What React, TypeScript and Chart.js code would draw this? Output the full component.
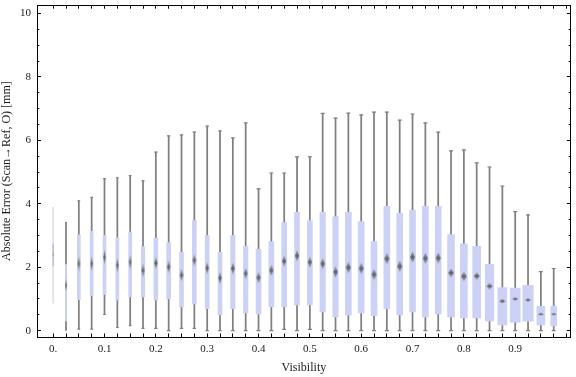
import React, { useEffect, useRef } from 'react';
import { Chart, registerables } from 'chart.js';

Chart.register(...registerables);
Chart.defaults.font.family = '"Liberation Serif", "Times New Roman", serif';

// ---- data ----
const visibility = [
  0, 0.025, 0.05, 0.075, 0.1, 0.125, 0.15, 0.175, 0.2, 0.225,
  0.25, 0.275, 0.3, 0.325, 0.35, 0.375, 0.4, 0.425, 0.45, 0.475,
  0.5, 0.525, 0.55, 0.575, 0.6, 0.625, 0.65, 0.675, 0.7, 0.725,
  0.75, 0.775, 0.8, 0.825, 0.85, 0.875, 0.9, 0.925, 0.95, 0.975,
];
const whiskerLow = [
  0.87, 0.02, 0.05, 0.05, 0.51, 0.10, 0.16, 0.07, 0.07, 0.0,
  0.07, 0.07, 0.0, 0.0, 0.0, 0.0, 0.0, 0.0, 0.04, 0.0,
  0.04, 0.0, 0.0, 0.0, 0.0, 0.0, 0.0, 0.0, 0.0, 0.0,
  0.0, 0.0, 0.0, 0.0, 0.0, 0.0, 0.0, 0.0, 0.0, 0.0,
];
const whiskerHigh = [
  3.89, 3.41, 4.09, 4.20, 4.79, 4.82, 4.89, 4.72, 5.63, 6.14,
  6.17, 6.26, 6.45, 6.30, 6.08, 6.55, 4.47, 4.97, 4.97, 5.48,
  5.48, 6.85, 6.70, 6.86, 6.80, 6.89, 6.89, 6.64, 6.83, 6.55,
  6.26, 5.67, 5.70, 5.29, 5.16, 4.56, 3.75, 3.65, 1.86, 1.96,
];
const quartileLow = [
  2.05, 0.31, 0.98, 1.10, 1.14, 0.97, 1.06, 1.06, 0.97, 1.00,
  0.75, 0.84, 0.69, 0.50, 0.69, 0.56, 0.53, 0.75, 0.75, 0.81,
  0.81, 0.59, 0.43, 0.50, 0.56, 0.47, 0.69, 0.50, 0.59, 0.43,
  0.53, 0.43, 0.40, 0.40, 0.31, 0.18, 0.27, 0.30, 0.18, 0.15,
];
const quartileHigh = [
  2.74, 2.08, 3.02, 3.13, 3.00, 2.93, 3.11, 2.65, 2.91, 2.78,
  2.47, 3.47, 3.00, 2.47, 3.00, 2.66, 2.56, 2.81, 3.41, 3.73,
  3.47, 3.73, 3.60, 3.73, 3.44, 2.81, 3.92, 3.70, 3.79, 3.92,
  3.92, 3.03, 2.74, 2.66, 2.09, 1.36, 1.34, 1.43, 0.77, 0.77,
];
const medians = [
  2.40, 1.43, 2.11, 2.11, 2.32, 2.06, 2.16, 1.90, 2.13, 2.01,
  1.75, 2.22, 1.97, 1.66, 1.96, 1.80, 1.67, 1.90, 2.19, 2.36,
  2.16, 2.11, 1.85, 1.99, 1.96, 1.77, 2.27, 2.03, 2.32, 2.28,
  2.29, 1.82, 1.71, 1.72, 1.40, 0.93, 1.00, 0.97, 0.52, 0.52,
];
const xTickLabels = ['0.', '0.1', '0.2', '0.3', '0.4', '0.5', '0.6', '0.7', '0.8', '0.9'];
const yTickLabels = ['0', '2', '4', '6', '8', '10'];
const xTitle = 'Visibility';
const yTitle = 'Absolute Error (Scan\u2192Ref, O) [mm]';

// ---- styles (pixel sizes) ----
const boxWidthPx = [
  0.8, 1.3, 3, 3, 3, 3, 3, 3.5, 4, 4,
  4, 4, 4, 4, 4.5, 4.5, 5, 5, 5, 5,
  5, 5.5, 5.5, 6, 6, 6, 6, 6, 6, 6,
  6, 7, 7, 8, 8.5, 9, 10, 10.5, 8, 6,
];
const medianMarkH = [
  6, 14, 16, 16, 16, 16, 16, 15, 13, 13,
  13, 13, 13, 13, 13, 12, 12, 12, 12, 12,
  12, 12, 12, 12, 12, 12, 12, 12, 12, 12,
  12, 9, 10, 8, 7, 5, 4, 4, 3, 3,
];

const X_MIN = -0.0315;
const X_MAX = 1.0083;
const Y_MIN = -0.2;
const Y_MAX = 10.26;
const BOX_COLOR = 'rgb(203,210,245)';
const WHISKER_COLOR = '#808080';
const LABEL_COLOR = '#1a1a1a';

function makeDiamond(w: number, h: number, alpha: number): HTMLCanvasElement {
  const c = document.createElement('canvas');
  const W = Math.ceil(w) + 2;
  const H = Math.ceil(h) + 2;
  c.width = W;
  c.height = H;
  const g = c.getContext('2d')!;
  const grad = g.createLinearGradient(0, (H - h) / 2, 0, (H + h) / 2);
  grad.addColorStop(0, `rgba(100,100,100,${0.3 * alpha})`);
  grad.addColorStop(0.5, `rgba(95,95,95,${1.0 * alpha})`);
  grad.addColorStop(1, `rgba(100,100,100,${0.3 * alpha})`);
  g.fillStyle = grad;
  g.beginPath();
  g.moveTo(W / 2, (H - h) / 2);
  g.lineTo(W / 2 + w / 2, H / 2);
  g.lineTo(W / 2, (H + h) / 2);
  g.lineTo(W / 2 - w / 2, H / 2);
  g.closePath();
  g.fill();
  return c;
}

const near = (a: number, b: number) => Math.abs(a - b) < 1e-6;
const isYMajor = (v: number) => near(v / 2, Math.round(v / 2));

const zeroPad = (s: any) => {
  s.paddingTop = 0;
  s.paddingBottom = 0;
  s.paddingLeft = 0;
  s.paddingRight = 0;
};
const keepTicks = (lo: number, hi: number) => (s: any) => {
  s.ticks = s.ticks.filter((t: any) => t.value >= lo - 1e-6 && t.value <= hi + 1e-6);
};

export default function App() {
  const ref = useRef<HTMLCanvasElement>(null);

  useEffect(() => {
    const canvas = ref.current;
    if (!canvas) return;

    const markers = visibility.map((_, i) =>
      makeDiamond(Math.max(1.8, Math.min(boxWidthPx[i] * 0.8, 5.5)), medianMarkH[i], i === 0 ? 0.35 : 1)
    );

    const datasets: any[] = [];
    datasets.push({
      type: 'scatter',
      data: visibility.map((v, i) => ({ x: v, y: medians[i] })),
      pointStyle: markers,
      pointRadius: 3,
      order: 0,
    });

    const capData: any[] = [];
    const capR: number[] = [];
    visibility.forEach((v, i) => {
      capData.push({ x: v, y: whiskerLow[i] }, { x: v, y: whiskerHigh[i] });
      const r = i === 0 ? 0 : Math.min(2, 0.5 + boxWidthPx[i] * 0.3);
      capR.push(r, r);
    });
    datasets.push({
      type: 'scatter',
      data: capData,
      pointStyle: 'line',
      pointRadius: capR,
      pointBorderColor: WHISKER_COLOR,
      pointBorderWidth: 1.2,
      order: 1,
    });

    visibility.forEach((v, i) => {
      datasets.push({
        type: 'bar',
        data: [{ x: v, y: [quartileLow[i], quartileHigh[i]] }],
        backgroundColor: i === 0 ? 'rgba(150,160,205,0.55)' : BOX_COLOR,
        barThickness: boxWidthPx[i],
        grouped: false,
        borderWidth: 0,
        order: 2,
      });
    });

    datasets.push({
      type: 'bar',
      data: visibility.map((v, i) => ({ x: v, y: [whiskerLow[i], whiskerHigh[i]] })),
      backgroundColor: visibility.map((_, i) => (i === 0 ? '#e2e2e2' : WHISKER_COLOR)),
      barThickness: 1.1,
      grouped: false,
      borderWidth: 0,
      order: 3,
    });

    const chart = new Chart(canvas, {
      type: 'bar',
      data: { datasets },
      options: {
        animation: false,
        responsive: false,
        devicePixelRatio: 1,
        events: [],
        layout: { padding: 0 },
        plugins: { legend: { display: false }, tooltip: { enabled: false } },
        scales: {
          x: {
            type: 'linear',
            position: 'bottom',
            min: X_MIN,
            max: X_MAX,
            offset: false,
            afterBuildTicks: keepTicks(0, 1),
            afterFit: (s: any) => { s.height = 40; zeroPad(s); },
            ticks: {
              stepSize: 0.025,
              autoSkip: false,
              maxRotation: 0,
              includeBounds: false,
              padding: 9.5,
              color: LABEL_COLOR,
              font: { size: 11 },
              callback: (value: any) => {
                const v = Number(value);
                const k = Math.round(v * 10);
                return near(v * 10, k) && k >= 0 && k < xTickLabels.length ? xTickLabels[k] : '';
              },
            },
            grid: { display: true, drawOnChartArea: false, offset: false, tickLength: -3.5, tickColor: '#000', tickWidth: 1 },
            border: { display: true, color: '#000', width: 1 },
            title: { display: true, text: xTitle, color: LABEL_COLOR, font: { size: 12 }, padding: { top: 0, bottom: 2 } },
          },
          x2: {
            type: 'linear',
            position: 'top',
            min: X_MIN,
            max: X_MAX,
            offset: false,
            afterBuildTicks: keepTicks(0, 1),
            afterFit: (s: any) => { s.height = 4; zeroPad(s); },
            ticks: { stepSize: 0.025, display: false, includeBounds: false, autoSkip: false },
            grid: { display: true, drawOnChartArea: false, offset: false, tickLength: -3.5, tickColor: '#000', tickWidth: 1 },
            border: { display: true, color: '#000', width: 1 },
          },
          y: {
            type: 'linear',
            position: 'left',
            min: Y_MIN,
            max: Y_MAX,
            afterBuildTicks: keepTicks(0, 10),
            afterFit: (s: any) => { s.width = 37; zeroPad(s); },
            ticks: {
              stepSize: 0.5,
              autoSkip: false,
              includeBounds: false,
              padding: 10,
              color: LABEL_COLOR,
              font: { size: 11 },
              callback: (value: any) => {
                const v = Number(value);
                return isYMajor(v) ? yTickLabels[Math.round(v / 2)] ?? '' : '';
              },
            },
            grid: {
              display: true,
              drawOnChartArea: false,
              tickLength: -4,
              tickColor: '#000',
              tickWidth: 1,
              tickBorderDash: (ctx: any) => (ctx.tick && isYMajor(ctx.tick.value) ? [] : [0, 1.6, 2.4, 20]),
            },
            border: { display: true, color: '#000', width: 1 },
            title: { display: true, text: yTitle, color: LABEL_COLOR, font: { size: 12 }, padding: { top: 0, bottom: 0 } },
          },
          y2: {
            type: 'linear',
            position: 'right',
            min: Y_MIN,
            max: Y_MAX,
            afterBuildTicks: keepTicks(0, 10),
            afterFit: (s: any) => { s.width = 1; zeroPad(s); },
            ticks: { stepSize: 0.5, display: false, includeBounds: false, autoSkip: false },
            grid: {
              display: true,
              drawOnChartArea: false,
              tickLength: -4,
              tickColor: '#000',
              tickWidth: 1,
              tickBorderDash: (ctx: any) => (ctx.tick && isYMajor(ctx.tick.value) ? [] : [2.4, 20]),
            },
            border: { display: true, color: '#000', width: 1 },
          },
        },
      } as any,
    });

    return () => chart.destroy();
  }, []);

  return (
    <div style={{ position: 'absolute', left: 0, top: 0, width: 576, height: 377, background: '#fff' }}>
      <canvas ref={ref} width={576} height={377} style={{ display: 'block' }} />
    </div>
  );
}
